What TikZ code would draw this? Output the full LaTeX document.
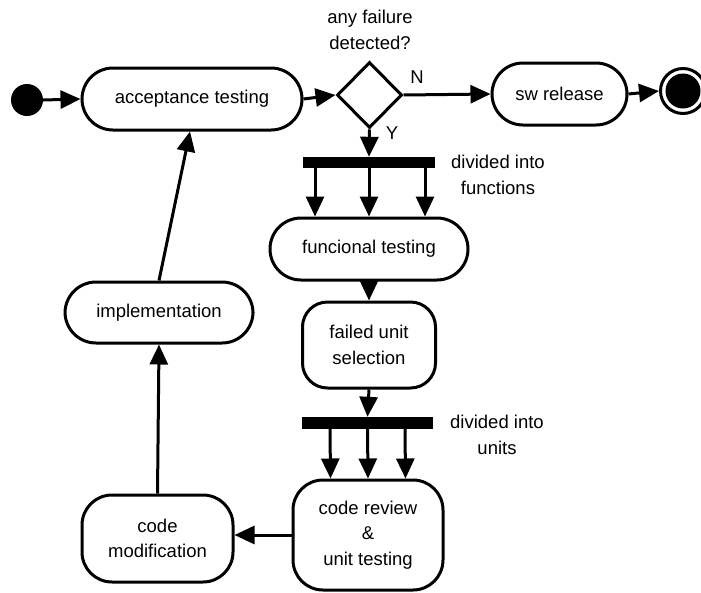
\documentclass[tikz,border=0pt]{standalone}
\usepackage{fontspec}
\setmainfont{Liberation Sans}
\usetikzlibrary{shapes.geometric,arrows.meta}

\tikzset{
  every node/.style={font=\fontsize{18.5}{25.5}\selectfont},
  activity/.style={draw, line width=3pt, rounded corners=#1, align=center, inner sep=2pt},
  activity/.default=31pt,
  forkbar/.style={fill=black, draw=none, inner sep=0pt},
  note/.style={align=center, inner sep=0pt},
  flow/.style={line width=3pt, -{Triangle[length=20pt,width=18pt]}},
}

\begin{document}
\begin{tikzpicture}[x=1pt,y=-1pt]
\useasboundingbox (0,0) rectangle (701,592);

% start and end states
\node[circle, fill=black, minimum size=32pt, inner sep=0pt] (start) at (27,100) {};
\node[circle, draw, line width=3pt, minimum size=45pt, inner sep=0pt] (finish) at (683,91) {};
\node[circle, fill=black, minimum size=35pt, inner sep=0pt] (finishdot) at (finish.center) {};

% activities
\node[activity, minimum width=220pt, minimum height=62pt] (acc) at (192,99) {acceptance testing};
\node[activity, minimum width=135pt, minimum height=62pt] (rel) at (559.5,94) {sw release};
\node[activity, minimum width=198pt, minimum height=62pt] (func) at (369,249) {funcional testing};
\node[activity=25pt, minimum width=133pt, minimum height=86pt] (fail) at (369,345) {failed unit\\selection};
\node[activity=30pt, minimum width=150pt, minimum height=110pt] (rev) at (368,535) {code review\\\&\\unit testing};
\node[activity=30pt, minimum width=151pt, minimum height=87pt] (mod) at (157.5,538.5) {code\\modification};
\node[activity, minimum width=188pt, minimum height=61pt] (impl) at (159,312.5) {implementation};

% decision
\node[diamond, draw, line width=3pt, minimum width=65pt, minimum height=66pt, inner sep=0pt] (dec) at (369.5,95) {};
\node[note] (question) at (370,30) {any failure\\detected?};
\node[note] (nlabel) at (417,77) {N};
\node[note] (ylabel) at (392,133) {Y};

% fork bars
\node[forkbar, minimum width=132pt, minimum height=11pt] (bar1) at (369,162.5) {};
\node[note] (fnote) at (498,175) {divided into\\functions};
\node[forkbar, minimum width=131pt, minimum height=12pt] (bar2) at (367.5,423) {};
\node[note] (unote) at (497,435) {divided into\\units};

% connectors
\draw[flow] (start.east) -- (acc.west);
\draw[flow] (acc.east) -- (dec.west);
\draw[flow] (dec.east) -- (rel.west);
\draw[flow] (rel.east) -- (finish.west);
\draw[flow] (dec.south) -- (bar1.north);
\foreach \dx in {-54,0,56}
  \draw[flow] ([xshift=\dx pt]bar1.south) -- ([xshift=\dx pt]func.north);
\draw[flow] (func.south) -- (fail.north);
\draw[flow] (fail.south) -- (bar2.north);
\foreach \dx in {-37.5,0,37.5}
  \draw[flow] ([xshift=\dx pt]bar2.south) -- ([xshift=\dx pt]rev.north);
\draw[flow] (rev.west) -- (rev.west -| mod.east);
\draw[flow] (mod.north) -- (impl.south);
\draw[flow] (impl.north) -- ([xshift=-2pt]acc.south);
\end{tikzpicture}
\end{document}
